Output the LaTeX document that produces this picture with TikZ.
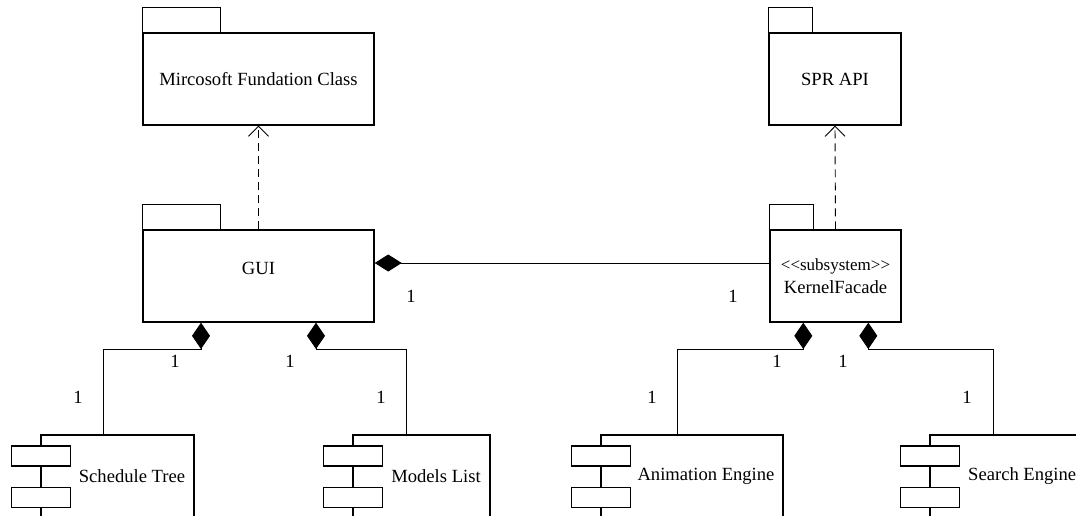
\documentclass[tikz,border=0pt]{standalone}
\usepackage{fontspec}
\setmainfont{Liberation Serif}
\usetikzlibrary{arrows.meta}
\begin{document}
\begin{tikzpicture}[x=1pt,y=-1pt,
  box/.style={draw, line width=1.4pt, fill=white, inner sep=0pt},
  tabline/.style={draw, line width=1.4pt},
  lbl/.style={inner sep=0pt, font=\fontsize{18.6}{22}\selectfont},
  mult/.style={inner sep=0pt, font=\fontsize{18.6}{22}\selectfont},
  conn/.style={draw, line width=0.9pt},
  compos/.style={conn, {Diamond[length=26.3pt,width=18pt]}-},
  composh/.style={conn, {Diamond[length=27pt,width=17pt]}-},
  dep/.style={draw, line width=0.9pt, dash pattern=on 8pt off 5pt, -{Straight Barb[length=10pt,width=20pt,line width=0.9pt]}}
]
\fill[white] (0,0) rectangle (1076,516);
\clip (0,0) rectangle (1076,516);

% packages
\node[box, minimum width=231pt, minimum height=92pt] (mfc) at (258.5,79) {};
\draw[tabline] (mfc.north west) rectangle ++(78,-25);
\node[lbl] at (mfc.center) {Mircosoft Fundation Class};

\node[box, minimum width=132pt, minimum height=92pt] (spr) at (835,79) {};
\draw[tabline] (spr.north west) rectangle ++(44,-25);
\node[lbl] at (spr.center) {SPR API};

\node[box, minimum width=231pt, minimum height=92pt] (gui) at (258.5,276) {};
\draw[tabline] (gui.north west) rectangle ++(78,-25);
\node[lbl] at ([yshift=8pt]gui.center) {GUI};

\node[box, minimum width=131pt, minimum height=92pt] (kf) at (835.5,276) {};
\draw[tabline] (kf.north west) rectangle ++(44,-25);
\node[inner sep=0pt, font=\fontsize{17}{19}\selectfont] at ([yshift=10pt]kf.center) {<\kern0pt<subsystem>\kern0pt>};
\node[lbl] at ([yshift=-11pt]kf.center) {KernelFacade};

% components
\node[box, minimum width=153pt, minimum height=90pt] (st) at (117.5,480) {};
\node[box, minimum width=58.6pt, minimum height=20.3pt] (st1) at (41,456) {};
\node[box, minimum width=58.6pt, minimum height=20.3pt] (st2) at (41,497.5) {};
\node[lbl] at (132,476) {Schedule Tree};

\node[box, minimum width=137pt, minimum height=90pt] (ml) at (421.5,480) {};
\node[box, minimum width=58.6pt, minimum height=20.3pt] (ml1) at (353,456) {};
\node[box, minimum width=58.6pt, minimum height=20.3pt] (ml2) at (353,497.5) {};
\node[lbl] at (436,476) {Models List};

\node[box, minimum width=182pt, minimum height=90pt] (ae) at (692,480) {};
\node[box, minimum width=58.6pt, minimum height=20.3pt] (ae1) at (601,456) {};
\node[box, minimum width=58.6pt, minimum height=20.3pt] (ae2) at (601,497.5) {};
\node[lbl] at (706,476) {Animation Engine};

\node[box, minimum width=160pt, minimum height=90pt] (se) at (1010,480) {};
\node[box, minimum width=58.6pt, minimum height=20.3pt] (se1) at (930,456) {};
\node[box, minimum width=58.6pt, minimum height=20.3pt] (se2) at (930,497.5) {};
\node[lbl, anchor=west] at (968,476) {Search Engine};

% dependencies
\draw[dep] (gui.north) -- (mfc.south);
\draw[dep] (kf.north) -- (spr.south);

% compositions
\draw[composh] ([yshift=13pt]gui.east) -- ([yshift=13pt]kf.west);
\draw[compos] ([xshift=-57.5pt]gui.south) -- ++(0,26.3) -| ([xshift=-14.5pt]st.north);
\draw[compos] ([xshift=57.5pt]gui.south) -- ++(0,26.3) -| ([xshift=-14.8pt]ml.north);
\draw[compos] ([xshift=-32.2pt]kf.south) -- ++(0,26.3) -| ([xshift=-14.3pt]ae.north);
\draw[compos] ([xshift=32.8pt]kf.south) -- ++(0,26.3) -| ([xshift=-16.7pt]se.north);

% multiplicities
\node[mult] (m1) at (411,296) {1};
\node[mult] (m2) at (733,296) {1};
\node[mult] (m3) at (175,361) {1};
\node[mult] (m4) at (290,361) {1};
\node[mult] (m5) at (78,397) {1};
\node[mult] (m6) at (381,397) {1};
\node[mult] (m7) at (777,361) {1};
\node[mult] (m8) at (843,361) {1};
\node[mult] (m9) at (652,397) {1};
\node[mult] (m10) at (967,397) {1};
\end{tikzpicture}
\end{document}
